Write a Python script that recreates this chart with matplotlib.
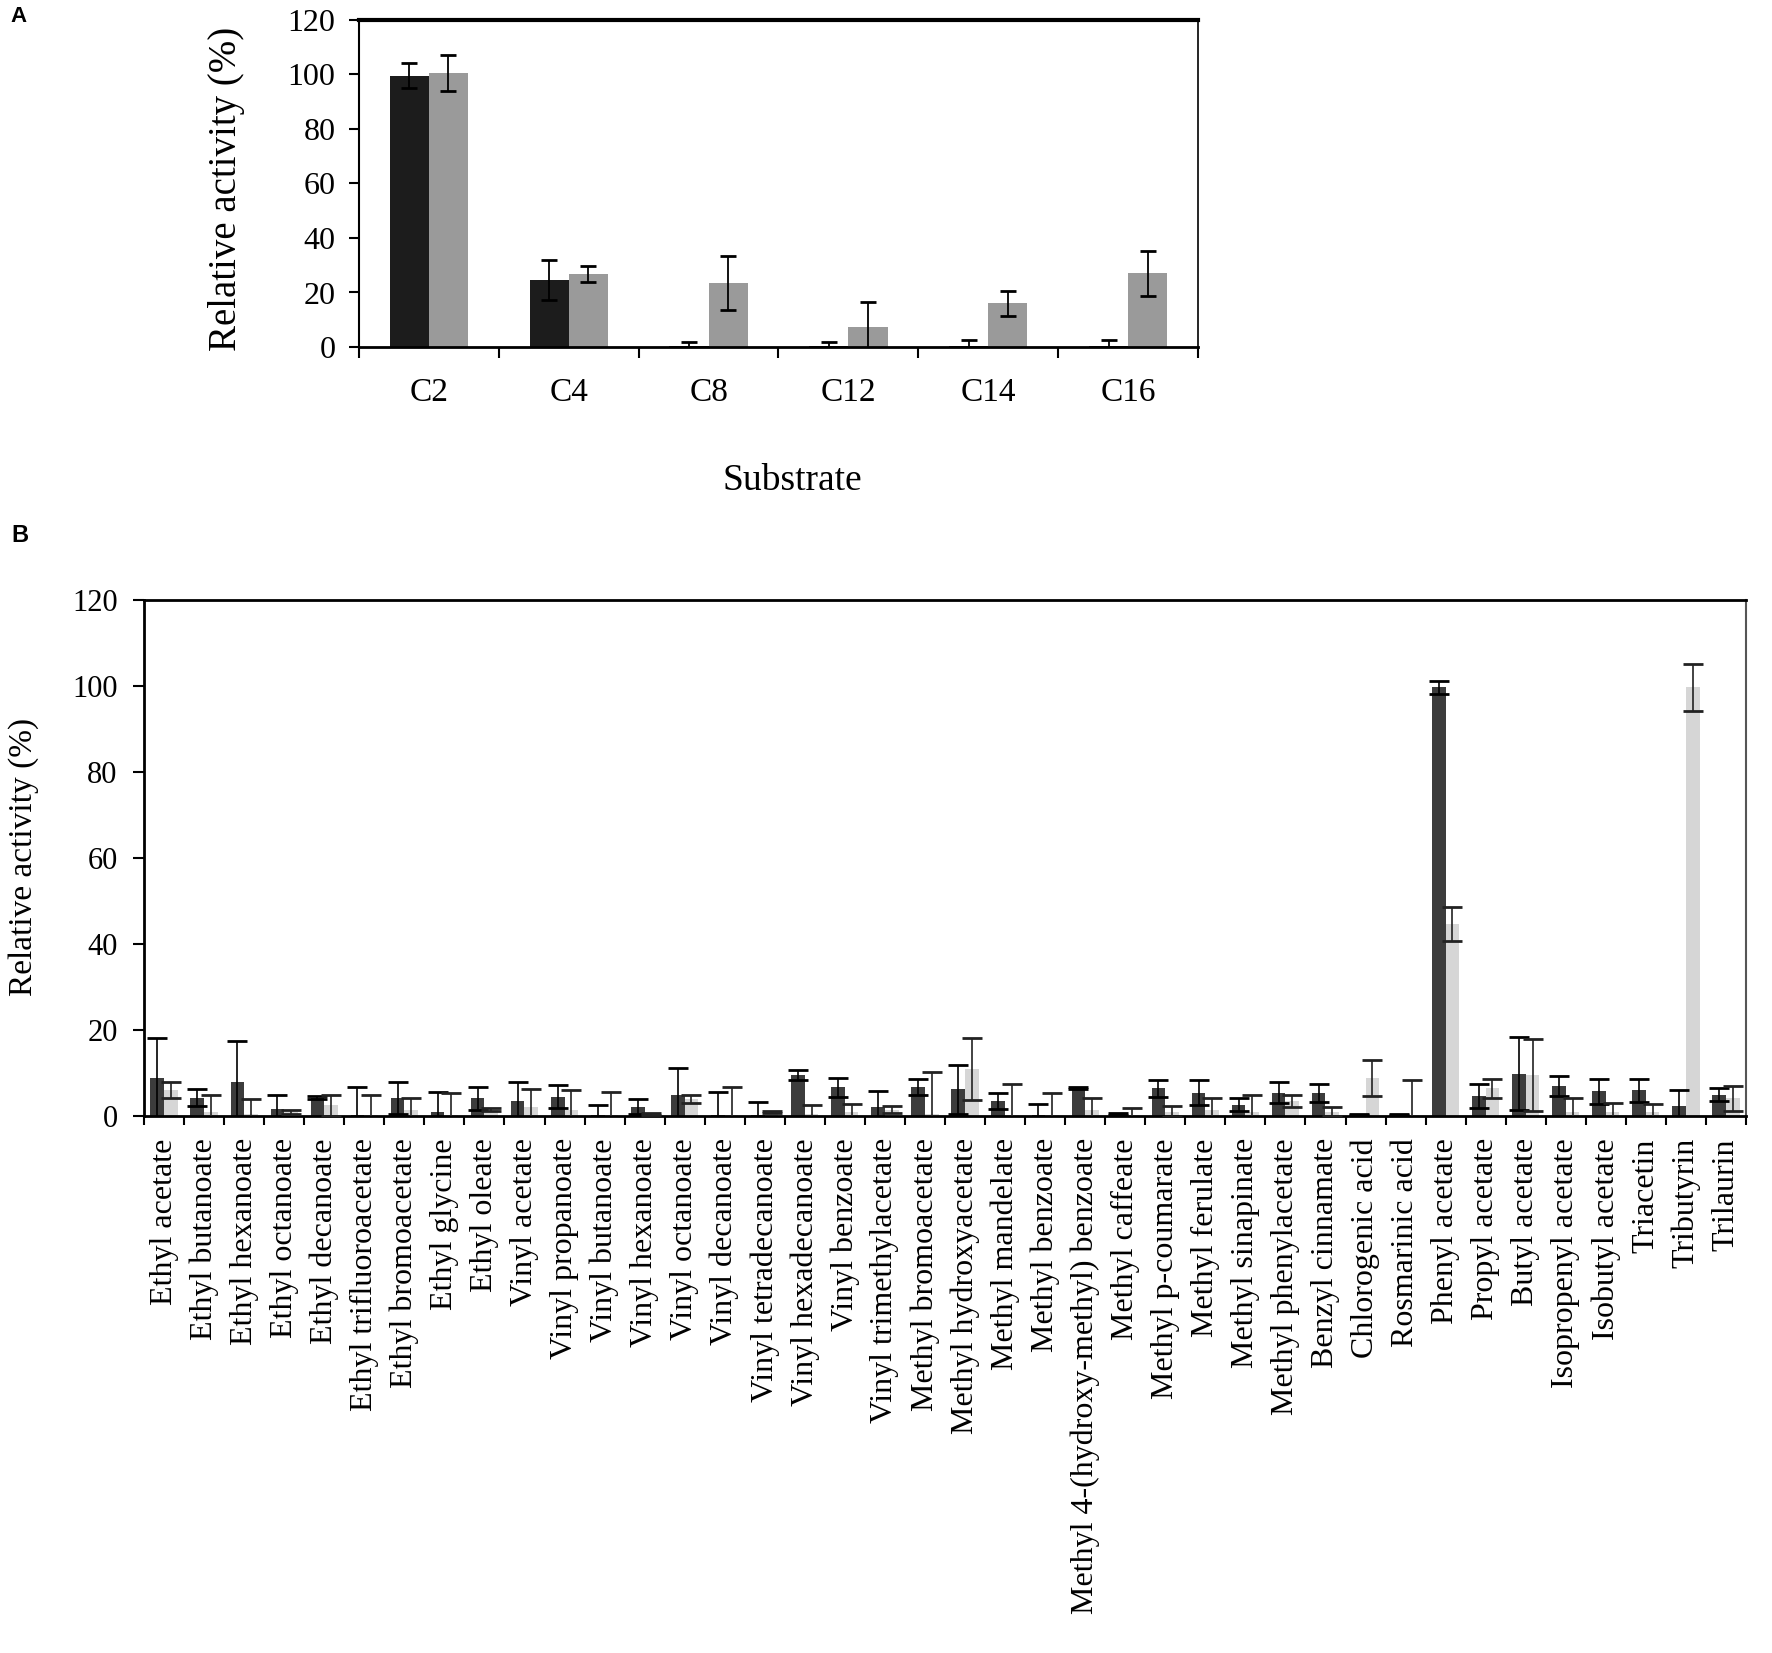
import numpy as np
import matplotlib
matplotlib.use("Agg")
import matplotlib.pyplot as plt
from matplotlib.ticker import FixedLocator, NullFormatter

plt.rcParams["font.family"] = ["Liberation Serif", "DejaVu Serif"]

# panel A: chain length series
substrates_a = ["C2", "C4", "C8", "C12", "C14", "C16"]
a_dark = [99.6, 24.5, 0.2, 0.2, 0.2, 0.2]
a_dark_err = [4.7, 7.4, 1.6, 1.6, 2.5, 2.5]
a_light = [100.5, 26.8, 23.5, 7.2, 16.0, 27.0]
a_light_err = [6.5, 3.0, 10.0, 9.2, 4.6, 8.2]

# panel B: substrate panel
substrates_b = [
    "Ethyl acetate", "Ethyl butanoate", "Ethyl hexanoate", "Ethyl octanoate",
    "Ethyl decanoate", "Ethyl trifluoroacetate", "Ethyl bromoacetate",
    "Ethyl glycine", "Ethyl oleate", "Vinyl acetate", "Vinyl propanoate",
    "Vinyl butanoate", "Vinyl hexanoate", "Vinyl octanoate", "Vinyl decanoate",
    "Vinyl tetradecanoate", "Vinyl hexadecanoate", "Vinyl benzoate",
    "Vinyl trimethylacetate", "Methyl bromoacetate", "Methyl hydroxyacetate",
    "Methyl mandelate", "Methyl benzoate", "Methyl 4-(hydroxy-methyl) benzoate",
    "Methyl caffeate", "Methyl p-coumarate", "Methyl ferulate",
    "Methyl sinapinate", "Methyl phenylacetate", "Benzyl cinnamate",
    "Chlorogenic acid", "Rosmarinic acid", "Phenyl acetate", "Propyl acetate",
    "Butyl acetate", "Isopropenyl acetate", "Isobutyl acetate", "Triacetin",
    "Tributyrin", "Trilaurin",
]
b_dark = [8.9, 4.3, 8.0, 1.6, 4.3, 0.3, 4.1, 1.0, 4.1, 3.5,
          4.5, 0.2, 2.2, 5.0, 0.3, 0.3, 9.5, 6.7, 2.2, 6.7,
          6.2, 3.5, 0.2, 6.5, 0.5, 6.4, 5.4, 2.6, 5.4, 5.4,
          0.3, 0.3, 99.7, 4.7, 9.8, 7.0, 5.8, 6.0, 2.3, 5.0]
b_dark_err = [9.3, 1.9, 9.5, 3.3, 0.4, 6.4, 3.7, 4.5, 2.6, 4.3,
              2.7, 2.4, 1.8, 6.2, 5.2, 2.9, 1.2, 2.2, 3.7, 1.9,
              5.7, 1.9, 2.7, 0.3, 0.2, 2.0, 2.9, 1.5, 2.4, 2.1,
              0.1, 0.1, 1.5, 2.8, 8.5, 2.3, 2.9, 2.7, 3.7, 1.4]
b_light = [6.0, 1.0, 0.5, 1.0, 2.5, 0.3, 1.5, 0.3, 1.5, 2.0,
           1.5, 0.2, 0.5, 4.0, 0.3, 1.0, 0.5, 1.0, 1.5, 0.5,
           10.9, 0.3, 0.2, 1.5, 0.3, 1.0, 1.5, 1.0, 3.5, 1.0,
           8.9, 0.3, 44.6, 6.5, 9.6, 1.0, 1.0, 1.0, 99.7, 4.1]
b_light_err = [1.8, 4.0, 3.4, 0.5, 2.4, 4.6, 2.8, 5.0, 0.3, 4.2,
               4.5, 5.3, 0.2, 1.0, 6.4, 0.2, 2.1, 1.7, 0.8, 9.7,
               7.2, 7.2, 5.1, 2.6, 1.5, 1.3, 2.6, 4.0, 1.5, 1.1,
               4.2, 8.0, 3.9, 2.2, 8.4, 3.1, 2.1, 1.9, 5.4, 2.9]

W, H = 1772, 1653
fig = plt.figure(figsize=(W / 100, H / 100), dpi=100)

# ---------- panel A ----------
axA = fig.add_axes([359 / W, 1 - 347 / H, 839 / W, 327 / H])
xa = np.arange(len(substrates_a))
wa = 0.28
axA.bar(xa - wa / 2, a_dark, wa, color="#1c1c1c", zorder=2)
axA.bar(xa + wa / 2, a_light, wa, color="#9a9a9a", zorder=2)
axA.errorbar(xa - wa / 2, a_dark, yerr=a_dark_err, fmt="none", ecolor="black",
             elinewidth=1.3, capsize=6, capthick=2, zorder=3)
axA.errorbar(xa + wa / 2, a_light, yerr=a_light_err, fmt="none", ecolor="black",
             elinewidth=1.3, capsize=6, capthick=2, zorder=3)
axA.set_xlim(-0.5, len(substrates_a) - 0.5)
axA.set_ylim(0, 120)
axA.set_yticks(range(0, 121, 20))
axA.tick_params(axis="y", labelsize=23, length=7, width=1.5, pad=10, direction="out")
axA.set_xticks(xa)
axA.set_xticklabels(substrates_a, fontsize=24)
axA.xaxis.set_minor_locator(FixedLocator(np.arange(-0.5, len(substrates_a), 1.0)))
axA.xaxis.set_minor_formatter(NullFormatter())
axA.tick_params(axis="x", which="major", length=0, pad=22)
axA.tick_params(axis="x", which="minor", length=8, width=1.5, direction="out")
axA.spines["top"].set_linewidth(3)
axA.spines["bottom"].set_linewidth(2)
axA.spines["left"].set_linewidth(1.5)
axA.spines["right"].set_linewidth(1.2)
axA.text(-0.1585, 0.483, "Relative activity (%)", transform=axA.transAxes,
         rotation=90, ha="center", va="center", fontsize=28)
axA.text(0.517, -0.41, "Substrate", transform=axA.transAxes,
         ha="center", va="center", fontsize=27)

# ---------- panel B ----------
axB = fig.add_axes([144 / W, 1 - 1116 / H, 1602 / W, 516 / H])
xb = np.arange(len(substrates_b))
wb = 0.34
axB.bar(xb - wb / 2, b_dark, wb, color="#3c3c3c", zorder=2)
axB.bar(xb + wb / 2, b_light, wb, color="#d6d6d6", zorder=2)
axB.errorbar(xb - wb / 2, b_dark, yerr=b_dark_err, fmt="none", ecolor="black",
             elinewidth=1.2, capsize=7, capthick=2, zorder=3)
axB.errorbar(xb + wb / 2, b_light, yerr=b_light_err, fmt="none", ecolor="#222222",
             elinewidth=1.2, capsize=7, capthick=2, zorder=3)
axB.set_xlim(-0.5, len(substrates_b) - 0.5)
axB.set_ylim(0, 120)
axB.set_yticks(range(0, 121, 20))
axB.tick_params(axis="y", labelsize=22, length=8, width=1.5, pad=11, direction="out")
axB.set_xticks(xb)
axB.set_xticklabels(substrates_b, rotation=90, fontsize=23, ha="center", va="top")
axB.xaxis.set_minor_locator(FixedLocator(np.arange(-0.5, len(substrates_b), 1.0)))
axB.xaxis.set_minor_formatter(NullFormatter())
axB.tick_params(axis="x", which="major", length=0, pad=16)
axB.tick_params(axis="x", which="minor", length=6.5, width=1.5, direction="out")
axB.spines["top"].set_linewidth(2)
axB.spines["bottom"].set_linewidth(2)
axB.spines["left"].set_linewidth(2)
axB.spines["right"].set_linewidth(1.5)
axB.spines["right"].set_color("#555555")
axB.text(-0.0749, 0.502, "Relative activity (%)", transform=axB.transAxes,
         rotation=90, ha="center", va="center", fontsize=24)

# panel letters
fig.text(10 / W, 1 - 6 / H, "A", ha="left", va="top", fontsize=16,
         fontweight="bold", family="Liberation Sans")
fig.text(11 / W, 1 - 524 / H, "B", ha="left", va="top", fontsize=17,
         fontweight="bold", family="Liberation Sans")

fig.savefig("out.png", dpi=100, facecolor="white")
